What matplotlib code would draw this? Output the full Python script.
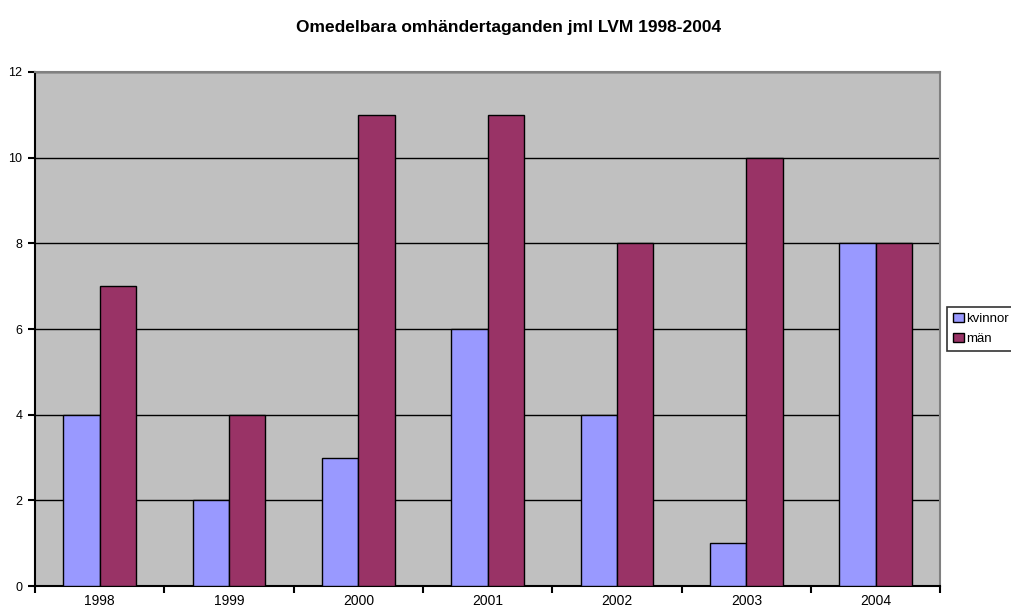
import numpy as np
import matplotlib.pyplot as plt

years = ['1998', '1999', '2000', '2001', '2002', '2003', '2004']
kvinnor = [4, 2, 3, 6, 4, 1, 8]
man = [7, 4, 11, 11, 8, 10, 8]

plt.rcParams['font.family'] = ['Liberation Sans', 'DejaVu Sans']

fig = plt.figure(figsize=(10.11, 6.10), dpi=100)
ax = fig.add_axes([0.0346, 0.0393, 0.8955, 0.8427])
ax.set_facecolor('#C0C0C0')

x = np.arange(len(years))
w = 0.28
ax.bar(x - w/2, kvinnor, w, color='#9999FF', edgecolor='black', linewidth=1, label='kvinnor', zorder=3)
ax.bar(x + w/2, man, w, color='#993366', edgecolor='black', linewidth=1, label='män', zorder=3)

ax.set_xlim(-0.5, len(years) - 0.5)
ax.set_ylim(0, 12)
ax.set_yticks(range(0, 13, 2))
ax.yaxis.grid(True, color='black', linewidth=1, zorder=1)
ax.set_axisbelow(True)

ax.set_xticks(x)
ax.set_xticklabels(years, fontsize=10)
ax.set_xticks(np.arange(-0.5, len(years)), minor=True)
ax.tick_params(axis='x', which='major', length=0, pad=5.5)
ax.tick_params(axis='x', which='minor', length=5, width=1.5, direction='out')
ax.tick_params(axis='y', length=5, width=1.5, direction='out', labelsize=9, pad=4)

for s in ['top', 'right']:
    ax.spines[s].set_color('#808080')
    ax.spines[s].set_linewidth(1.5)
for s in ['left', 'bottom']:
    ax.spines[s].set_color('black')
    ax.spines[s].set_linewidth(1.5)

fig.text(0.503, 0.955, 'Omedelbara omhändertaganden jml LVM 1998-2004',
         ha='center', va='center', fontsize=12.5, fontweight='bold')

leg = fig.legend(loc='upper left', bbox_to_anchor=(0.937, 0.497), fontsize=9.5,
                 frameon=True, fancybox=False, edgecolor='black',
                 handlelength=0.8, handleheight=0.65, handletextpad=0.2,
                 borderpad=0.45, labelspacing=0.65, borderaxespad=0)
leg.get_frame().set_linewidth(1.2)

fig.savefig('out.png', dpi=100)
